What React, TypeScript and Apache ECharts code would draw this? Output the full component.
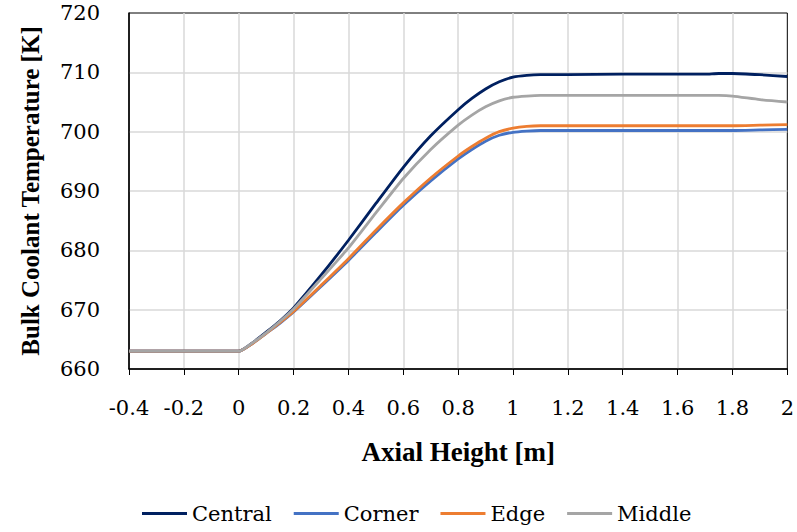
import React, { useEffect, useRef } from "react";
import * as echarts from "echarts";

const xValues = [-0.4, -0.2, 0, 0.05, 0.1, 0.15, 0.2, 0.3, 0.4, 0.5, 0.6, 0.7, 0.8, 0.85, 0.9, 0.95, 1.0, 1.05, 1.1, 1.2, 1.4, 1.6, 1.7, 1.75, 1.8, 1.9, 2.0];
const central = [663, 663, 663, 664.4, 666.2, 668.1, 670.3, 675.8, 681.7, 687.9, 694.0, 699.3, 703.7, 705.6, 707.2, 708.4, 709.2, 709.5, 709.6, 709.6, 709.7, 709.7, 709.7, 709.8, 709.8, 709.6, 709.3];
const corner = [663, 663, 663, 664.3, 666.0, 667.7, 669.6, 673.9, 678.3, 683.0, 687.6, 691.7, 695.4, 697.0, 698.4, 699.4, 699.9, 700.1, 700.2, 700.2, 700.2, 700.2, 700.2, 700.2, 700.2, 700.3, 700.4];
const edge = [663, 663, 663, 664.3, 666.0, 667.8, 669.7, 674.1, 678.6, 683.4, 688.0, 692.2, 695.9, 697.5, 698.9, 700.0, 700.6, 700.9, 701.0, 701.0, 701.0, 701.0, 701.0, 701.0, 701.0, 701.1, 701.2];
const middle = [663, 663, 663, 664.4, 666.1, 668.0, 670.1, 675.2, 680.4, 686.3, 692.1, 697.0, 701.1, 702.8, 704.2, 705.2, 705.8, 706.0, 706.1, 706.1, 706.1, 706.1, 706.1, 706.1, 706.0, 705.4, 705.0];

const seriesNames = ["Central", "Corner", "Edge", "Middle"];
const seriesColors = ["#002060", "#4472C4", "#ED7D31", "#A5A5A5"];
const seriesValues = [central, corner, edge, middle];

const BOLD_FONT = "Liberation Serif";
const REG_FONT = "DejaVu Serif";
const REG_SIZE = 21;

export default function App() {
  const ref = useRef<HTMLDivElement>(null);
  useEffect(() => {
    if (!ref.current) return;
    const chart = echarts.init(ref.current, undefined, { renderer: "svg" });
    chart.setOption({
      animation: false,
      backgroundColor: "#ffffff",
      textStyle: { fontFamily: REG_FONT },
      grid: {
        left: 129,
        top: 13,
        right: 8,
        bottom: 163,
        show: true,
        borderColor: "#000000",
        borderWidth: 1,
        backgroundColor: "transparent",
      },
      legend: {
        data: seriesNames,
        left: 142,
        top: 503,
        padding: 0,
        itemGap: 22,
        itemWidth: 45,
        itemHeight: 3,
        icon: "rect",
        textStyle: { fontFamily: REG_FONT, fontSize: REG_SIZE, color: "#000" },
      },
      xAxis: {
        type: "value",
        min: -0.4,
        max: 2,
        interval: 0.2,
        name: "Axial Height [m]",
        nameLocation: "middle",
        nameGap: 69,
        nameTextStyle: { fontFamily: BOLD_FONT, fontSize: 27, fontWeight: "bold", color: "#000" },
        axisLine: { show: true, onZero: false, lineStyle: { color: "#000", width: 1.5 } },
        axisTick: { show: true, inside: false, length: 6, lineStyle: { color: "#000", width: 1 } },
        axisLabel: {
          fontFamily: REG_FONT,
          fontSize: REG_SIZE,
          color: "#000",
          margin: 28,
          formatter: (v: number) => String(Math.round(v * 10) / 10),
        },
        splitLine: { show: true, showMinLine: false, showMaxLine: false, lineStyle: { color: "#d9d9d9", width: 1.5 } },
      },
      yAxis: {
        type: "value",
        min: 660,
        max: 720,
        interval: 10,
        name: "Bulk Coolant Temperature [K]",
        nameLocation: "middle",
        nameGap: 86,
        nameTextStyle: { fontFamily: BOLD_FONT, fontSize: 25, fontWeight: "bold", color: "#000" },
        axisLine: { show: true, onZero: false, lineStyle: { color: "#000", width: 1.5 } },
        axisTick: { show: false },
        axisLabel: { fontFamily: REG_FONT, fontSize: REG_SIZE, color: "#000", margin: 29 },
        splitLine: { show: true, showMinLine: false, showMaxLine: false, lineStyle: { color: "#d9d9d9", width: 1.5 } },
      },
      series: seriesNames.map((name, i) => ({
        name,
        type: "line",
        data: xValues.map((x, j) => [x, seriesValues[i][j]]),
        showSymbol: false,
        symbol: "none",
        smooth: 0.2,
        lineStyle: { color: seriesColors[i], width: 2.8 },
        itemStyle: { color: seriesColors[i] },
      })),
    });
    return () => chart.dispose();
  }, []);
  return <div ref={ref} style={{ width: 797, height: 532, position: "absolute", left: 0, top: 0 }} />;
}
